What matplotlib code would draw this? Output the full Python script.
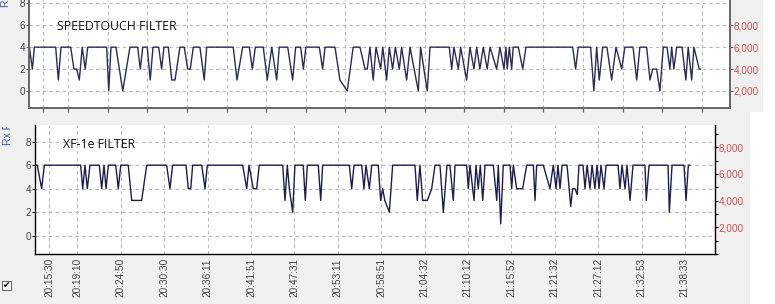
import matplotlib
matplotlib.use("Agg")
import matplotlib.pyplot as plt
from matplotlib.patches import Rectangle
from matplotlib.transforms import Bbox, TransformedBbox
from matplotlib.ticker import FuncFormatter, MultipleLocator

# ---------------- data ----------------
tick_labels = ["20:15:30", "20:19:10", "20:24:50", "20:30:30", "20:36:11", "20:41:51",
               "20:47:31", "20:53:11", "20:58:51", "21:04:32", "21:10:12", "21:15:52",
               "21:21:32", "21:27:12", "21:32:53", "21:38:33"]
top_tick_labels = tick_labels + ["21:44:13", "21:49:53"]

# SPEEDTOUCH FILTER: seconds after 20:15:30, Rx rate
top_t = [-113, -87, -70, 113, 136, 159, 242, 270, 294, 316,
         341, 367, 388, 551, 569, 588, 631, 689, 751, 817,
         840, 861, 899, 925, 949, 998, 1023, 1043, 1080, 1110,
         1138, 1180, 1217, 1247, 1269, 1295, 1352, 1389, 1410, 1638,
         1670, 1719, 1776, 1802, 1828, 1896, 1930, 1969, 2011, 2033,
         2106, 2148, 2174, 2217, 2240, 2262, 2377, 2406, 2426, 2512,
         2554, 2617, 2668, 2726, 2770, 2789, 2812, 2840, 2864, 2904,
         2922, 2955, 2978, 3007, 3030, 3064, 3084, 3127, 3156, 3227,
         3247, 3304, 3328, 3493, 3514, 3533, 3571, 3591, 3642, 3671,
         3705, 3729, 3756, 3785, 3819, 3843, 3900, 3928, 3963, 3980,
         3991, 4009, 4029, 4042, 4086, 4124, 4152, 4553, 4578, 4601,
         4707, 4735, 4759, 4781, 4811, 4847, 4888, 4925, 4974, 5001,
         5071, 5103, 5130, 5188, 5217, 5240, 5274, 5302, 5331, 5363,
         5388, 5403, 5422, 5446, 5492, 5525, 5545, 5575, 5594, 5640, 5652]
top_v = [4, 2, 4, 4, 1, 4, 4, 2, 2, 1,
         4, 2, 4, 4, 0, 4, 4, 0, 4, 4,
         2, 4, 4, 1, 4, 4, 2, 4, 4, 1,
         1, 4, 4, 2, 2, 4, 4, 1, 4, 4,
         1, 4, 4, 2, 4, 4, 1, 4, 1, 4,
         4, 1, 4, 4, 2, 4, 4, 2, 4, 4,
         1, 0, 4, 4, 2, 2, 4, 1, 4, 2,
         4, 1, 4, 2, 4, 2, 4, 1, 4, 0,
         4, 0, 4, 4, 2, 4, 2, 4, 1, 4,
         2, 4, 2, 4, 2, 4, 2, 4, 2, 4,
         2, 4, 2, 4, 4, 2, 4, 4, 2, 4,
         4, 0, 4, 1, 4, 4, 1, 4, 2, 4,
         4, 1, 4, 4, 1, 2, 2, 0, 4, 4,
         2, 4, 2, 4, 4, 1, 4, 1, 4, 2, 2]

# XF-1e FILTER: seconds after 20:15:30, Rx rate
bot_t = [-112, -94, -60, -39, 246, 262, 280, 298, 319, 392,
         411, 429, 445, 463, 521, 541, 560, 619, 646, 724,
         764, 920, 946, 967, 1072, 1090, 1109, 1124, 1195, 1221,
         1239, 1516, 1548, 1566, 1599, 1626, 1646, 1830, 1848, 1866,
         1882, 1908, 1926, 1991, 2007, 2023, 2109, 2128, 2143, 2352,
         2371, 2389, 2449, 2467, 2483, 2509, 2528, 2579, 2598, 2614,
         2630, 2666, 2692, 2867, 2885, 2906, 2927, 2964, 2998, 3024,
         3063, 3089, 3118, 3141, 3167, 3181, 3272, 3285, 3298, 3330,
         3345, 3363, 3379, 3398, 3416, 3481, 3508, 3520, 3539, 3559,
         3612, 3625, 3638, 3664, 3711, 3743, 3795, 3808, 3821, 3873,
         3925, 3951, 3973, 3988, 4004, 4020, 4059, 4088, 4103, 4121,
         4139, 4153, 4184, 4200, 4216, 4239, 4255, 4278, 4294, 4310,
         4325, 4349, 4365, 4459, 4474, 4490, 4514, 4529, 4553, 4576,
         4670, 4680, 4702, 4851, 4861, 4882, 4976, 4992, 5010, 5021]
bot_v = [6, 6, 4, 6, 6, 4, 6, 4, 6, 6,
         4, 6, 4, 6, 6, 4, 6, 6, 3, 3,
         6, 6, 4, 6, 6, 4, 4, 6, 6, 4,
         6, 6, 4, 6, 4, 4, 6, 6, 3, 6,
         4, 2, 6, 6, 3, 6, 6, 3, 6, 6,
         4, 6, 6, 4, 6, 4, 6, 6, 3, 4,
         3, 2, 6, 6, 3, 6, 3, 3, 4, 6,
         6, 2, 6, 6, 3, 6, 6, 4, 6, 3,
         6, 4, 6, 3, 6, 6, 3, 6, 1, 6,
         6, 4, 6, 4, 4, 6, 6, 3, 6, 6,
         4, 6, 4, 6, 4, 6, 6, 2.5, 4, 4,
         3.5, 6, 6, 4, 6, 4, 6, 4, 6, 4,
         6, 4, 6, 6, 4, 6, 4, 6, 3, 6,
         6, 3, 6, 6, 2, 6, 6, 3, 6, 6]

left_ticks = [0, 2, 4, 6, 8]
right_ticks = [2000, 4000, 6000, 8000]
title_top = "SPEEDTOUCH FILTER"
title_bot = "XF-1e FILTER"
ylabel = "Rx Rate"


def secs(s):
    h, m, x = map(int, s.split(":"))
    return h * 3600 + m * 60 + x


T0 = secs(tick_labels[0])
tick_pos = [secs(s) - T0 for s in tick_labels]
top_tick_pos = [secs(s) - T0 for s in top_tick_labels]

# ---------------- style ----------------
W, H = 775, 304
BG = "#f0f0f0"
LINE = "#1c1c52"
GRID = "#b9b9b9"
TICKC = "#444444"
RED = "#d05454"
tick_font = dict(family="Liberation Sans", size=7.2)

fig = plt.figure(figsize=(W / 100, H / 100), dpi=100, facecolor=BG)


def frac(x0, y0, x1, y1):
    return [x0 / W, 1 - y1 / H, (x1 - x0) / W, (y1 - y0) / H]


def style_axes(ax, axr, color_sp, lw_sp):
    ax.set_facecolor("white")
    ax.grid(True, linestyle=(0, (3, 3)), color=GRID, linewidth=0.8)
    ax.set_axisbelow(True)
    ax.spines["top"].set_visible(False)
    ax.spines["right"].set_visible(False)
    for s in ("left", "bottom"):
        ax.spines[s].set_color(color_sp)
        ax.spines[s].set_linewidth(lw_sp)
    ax.set_yticks(left_ticks)
    ax.set_yticklabels([str(v) for v in left_ticks], fontdict=tick_font, color=TICKC)
    ax.tick_params(axis="y", length=2.2, width=0.8, color=color_sp, pad=0.5)
    for s in ("left", "top", "bottom"):
        axr.spines[s].set_visible(False)
    axr.spines["right"].set_color(color_sp)
    axr.spines["right"].set_linewidth(lw_sp)
    axr.set_yticks(right_ticks)
    axr.yaxis.set_major_formatter(FuncFormatter(lambda v, p: f"{int(v):,}"))
    for lab in axr.get_yticklabels():
        lab.set_fontfamily("Liberation Sans")
        lab.set_fontsize(7.2)
        lab.set_color(RED)
    axr.tick_params(axis="y", length=2.2, width=0.8, color=color_sp, pad=0.5, labelcolor=RED)


# ---- top panel ----
ax1 = fig.add_axes(frac(29, 0, 730, 107.7))
ax1.plot(top_t, top_v, color="#2a2a5c", linewidth=1.0)
ax1.set_xlim(-116, 5904)
ax1.set_ylim(-1.53, 8.31)
ax1.set_xticks(top_tick_pos)
ax1.tick_params(axis="x", length=3, width=0.9, color="#666666", direction="out",
                labelbottom=False)
ax1r = ax1.twinx()
ax1r.set_ylim(470, 10310)
style_axes(ax1, ax1r, "#666666", 1.4)
ax1.text(0.04, 0.75, title_top, transform=ax1.transAxes, family="Open Sans",
         fontsize=8.8, color="#111111", va="center", ha="left")

# ---- bottom panel ----
ax2 = fig.add_axes(frac(35, 125, 715, 254))
ax2.plot(bot_t, bot_v, color=LINE, linewidth=1.0)
ax2.set_xlim(-112, 5219)
ax2.set_ylim(-1.56, 9.42)
ax2.set_xticks(tick_pos)
ax2.set_xticklabels(tick_labels, rotation=90, fontdict=tick_font, color=TICKC)
ax2.tick_params(axis="x", length=0, pad=3)
ax2r = ax2.twinx()
ax2r.set_ylim(0, 9660)
style_axes(ax2, ax2r, "#000000", 1.0)
ax2r.yaxis.set_minor_locator(MultipleLocator(1000))
ax2r.tick_params(axis="y", which="minor", length=2.2, width=0.8, color="#000000")
ax2.text(0.041, 0.85, title_bot, transform=ax2.transAxes, family="Open Sans",
         fontsize=8.8, color="#111111", va="center", ha="left")

# ---- window chrome ----
fig.add_artist(Rectangle((763 / W, 1 - 112 / H), 1, 112 / H, transform=fig.transFigure,
                         facecolor="white", edgecolor="none", zorder=0.6))
fig.add_artist(Rectangle((750 / W, 0), 1, 1 - 112 / H, transform=fig.transFigure,
                         facecolor="white", edgecolor="none", zorder=0.6))

lab_top = fig.text(6 / W, 1 - 7 / H, ylabel, rotation=90, ha="center", va="bottom",
                   family="Liberation Sans", fontsize=7.5, color="#3a5aa8", zorder=1)
lab_bot = fig.text(8 / W, 1 - 145 / H, ylabel, rotation=90, ha="center", va="bottom",
                   family="Liberation Sans", fontsize=7.5, color="#3a5aa8", zorder=1)
lab_bot.set_clip_box(TransformedBbox(Bbox([[0, 0], [0.05, 1 - 127 / H]]), fig.transFigure))
lab_bot.set_clip_on(True)

fig.add_artist(Rectangle((2 / W, 1 - 290 / H), 9 / W, 9 / H, transform=fig.transFigure,
                         facecolor="white", edgecolor="#6a6a6a", linewidth=0.8, zorder=1))
fig.text(6.5 / W, 1 - 285.5 / H, "\u2714", family="DejaVu Sans", fontsize=6.5,
         ha="center", va="center", color="#111111", zorder=2)

fig.savefig("out.png", dpi=100, facecolor=BG)
